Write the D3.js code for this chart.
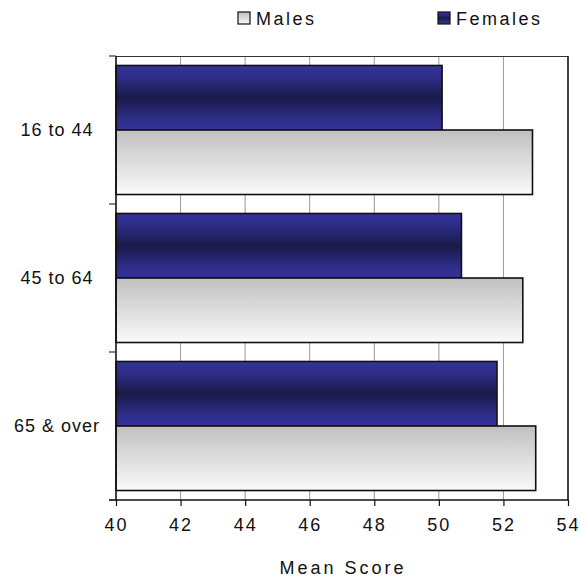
<!DOCTYPE html>
<html>
<head>
<meta charset="utf-8">
<script src="https://cdn.jsdelivr.net/npm/d3@7"></script>
<style>
  html, body { margin: 0; padding: 0; background: #fff; }
  svg { display: block; }
  text { font-family: "Liberation Sans", Arial, sans-serif; font-size: 18px; fill: #111; letter-spacing: 2.5px; }
</style>
</head>
<body>
<svg id="chart" width="581" height="580"></svg>
<script>
// Mean score by age group and sex
const categories = ["16 to 44", "45 to 64", "65 & over"];
const series = ["Females", "Males"];
const females = [50.1, 50.7, 51.8];
const males = [52.9, 52.6, 53.0];
const xTicks = [40, 42, 44, 46, 48, 50, 52, 54];
const legendOrder = ["Males", "Females"];

const values = { Females: females, Males: males };

const svg = d3.select("#chart");
const plot = { left: 116, right: 568, top: 56, bottom: 500 };

const x = d3.scaleLinear().domain([40, 54]).range([plot.left, plot.right]);
const y = d3.scaleBand().domain(categories).range([plot.top, plot.bottom]).padding(0);
const ySub = d3.scaleBand().domain(series).range([0, y.bandwidth()])
  .paddingInner(0).paddingOuter(0.147);

// Gradients
const defs = svg.append("defs");
const gF = defs.append("linearGradient").attr("id", "gradF")
  .attr("x1", 0).attr("y1", 0).attr("x2", 0).attr("y2", 1);
gF.append("stop").attr("offset", "0%").attr("stop-color", "#34349a");
gF.append("stop").attr("offset", "20%").attr("stop-color", "#2c2c85");
gF.append("stop").attr("offset", "50%").attr("stop-color", "#1a1a48");
gF.append("stop").attr("offset", "80%").attr("stop-color", "#2c2c85");
gF.append("stop").attr("offset", "100%").attr("stop-color", "#34349a");

const gM = defs.append("linearGradient").attr("id", "gradM")
  .attr("x1", 0).attr("y1", 0).attr("x2", 0).attr("y2", 1);
gM.append("stop").attr("offset", "0%").attr("stop-color", "#c0c0c0");
gM.append("stop").attr("offset", "100%").attr("stop-color", "#fafafa");

const fills = { Females: "url(#gradF)", Males: "url(#gradM)" };

// Vertical gridlines
svg.append("g").selectAll("line")
  .data(xTicks.filter(t => t > 40 && t < 54))
  .join("line")
  .attr("x1", d => x(d)).attr("x2", d => x(d))
  .attr("y1", plot.top).attr("y2", plot.bottom)
  .attr("stroke", "#9a9a9a").attr("stroke-width", 1);

// Plot frame (top and right)
svg.append("line").attr("x1", plot.left).attr("x2", plot.right)
  .attr("y1", plot.top + 0.5).attr("y2", plot.top + 0.5)
  .attr("stroke", "#333").attr("stroke-width", 1.2);
svg.append("line").attr("x1", plot.right).attr("x2", plot.right)
  .attr("y1", plot.top).attr("y2", plot.bottom)
  .attr("stroke", "#111").attr("stroke-width", 1.6);

// Bars
const groups = svg.append("g").selectAll("g")
  .data(categories)
  .join("g")
  .attr("transform", d => `translate(0,${y(d)})`);

groups.selectAll("rect")
  .data((c, i) => series.map(s => ({ s, v: values[s][i] })))
  .join("rect")
  .attr("x", x(40))
  .attr("y", d => ySub(d.s))
  .attr("width", d => x(d.v) - x(40))
  .attr("height", ySub.bandwidth())
  .attr("fill", d => fills[d.s])
  .attr("stroke", "#111")
  .attr("stroke-width", 1.6);

// X axis
const xAxis = d3.axisBottom(x).tickValues(xTicks).tickSize(6).tickPadding(12);
const gx = svg.append("g").attr("transform", `translate(0,${plot.bottom})`).call(xAxis);
gx.attr("font-size", null).attr("font-family", null);
gx.select(".domain").remove();
gx.selectAll(".tick line").attr("stroke", "#111").attr("stroke-width", 1.2);
gx.selectAll(".tick text").attr("fill", "#111").style("letter-spacing", "2px");
svg.append("line").attr("x1", plot.left - 7).attr("x2", plot.right)
  .attr("y1", plot.bottom).attr("y2", plot.bottom)
  .attr("stroke", "#111").attr("stroke-width", 1.4);

// Y axis line and category separators
svg.append("line").attr("x1", plot.left).attr("x2", plot.left)
  .attr("y1", plot.top).attr("y2", plot.bottom)
  .attr("stroke", "#111").attr("stroke-width", 1.6);
const bounds = categories.map(c => y(c)).concat([plot.bottom]);
svg.append("g").selectAll("line").data(bounds).join("line")
  .attr("x1", plot.left - 7).attr("x2", plot.left)
  .attr("y1", d => d).attr("y2", d => d)
  .attr("stroke", "#333").attr("stroke-width", 1.2);

// Category labels
svg.append("g").selectAll("text").data(categories).join("text")
  .attr("x", 57)
  .attr("y", d => y(d) + y.bandwidth() / 2)
  .attr("dy", "0.35em")
  .attr("text-anchor", "middle")
  .style("letter-spacing", "1px")
  .text(d => d);

// Axis title
svg.append("text").attr("x", (plot.left + plot.right) / 2 + 1).attr("y", 574)
  .attr("text-anchor", "middle").style("letter-spacing", "3px").text("Mean Score");

// Legend
const legendPos = { Males: 238, Females: 438 };
const lg = svg.append("g").selectAll("g").data(legendOrder).join("g")
  .attr("transform", d => `translate(${legendPos[d]},12)`);
lg.append("rect").attr("x", 0).attr("y", 0).attr("width", 12).attr("height", 12)
  .attr("fill", d => fills[d]).attr("stroke", "#111").attr("stroke-width", 1.2);
lg.append("text").attr("x", 18).attr("y", 12.5).text(d => d);
</script>
</body>
</html>
